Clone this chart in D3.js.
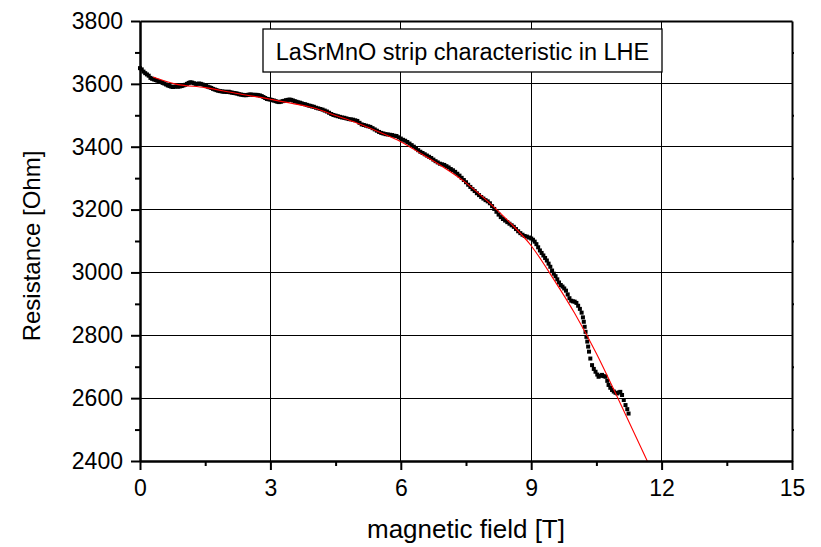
<!DOCTYPE html>
<html>
<head>
	<meta charset="utf-8">
	<title>LaSrMnO strip characteristic</title>
	<script src="https://d3js.org/d3.v7.min.js"></script>
	<style>
		body { margin: 0; background: #fff; }
		text { font-family: 'Liberation Sans', Arial, sans-serif; fill: #000; }
	</style>
</head>
<body>
	<div class="chart"></div>

	<script type="text/javascript">
		// measured points: magnetic field [T] / resistance [Ohm]
		var fieldT = [
			0.00, 0.04, 0.08, 0.12, 0.16, 0.20, 0.24, 0.28, 0.32, 0.36, 0.40, 0.44, 0.48, 0.52, 0.56, 0.60,
			0.64, 0.68, 0.72, 0.76, 0.80, 0.84, 0.88, 0.92, 0.96, 1.00, 1.04, 1.08, 1.12, 1.16, 1.20, 1.24,
			1.28, 1.32, 1.36, 1.40, 1.44, 1.48, 1.52, 1.56, 1.60, 1.64, 1.68, 1.72, 1.76, 1.80, 1.84, 1.88,
			1.92, 1.96, 2.00, 2.04, 2.08, 2.12, 2.16, 2.20, 2.24, 2.28, 2.32, 2.36, 2.40, 2.44, 2.48, 2.52,
			2.56, 2.60, 2.64, 2.68, 2.72, 2.76, 2.80, 2.84, 2.88, 2.92, 2.96, 3.00, 3.04, 3.08, 3.12, 3.16,
			3.20, 3.24, 3.28, 3.32, 3.36, 3.40, 3.44, 3.48, 3.52, 3.56, 3.60, 3.64, 3.68, 3.72, 3.76, 3.80,
			3.84, 3.88, 3.92, 3.96, 4.00, 4.05, 4.10, 4.15, 4.20, 4.25, 4.30, 4.35, 4.40, 4.45, 4.50, 4.55,
			4.60, 4.65, 4.70, 4.75, 4.80, 4.85, 4.90, 4.95, 5.00, 5.05, 5.10, 5.15, 5.20, 5.25, 5.30, 5.35,
			5.40, 5.45, 5.50, 5.55, 5.60, 5.65, 5.70, 5.75, 5.80, 5.85, 5.90, 5.95, 6.00, 6.05, 6.10, 6.15,
			6.20, 6.25, 6.30, 6.35, 6.40, 6.45, 6.50, 6.55, 6.60, 6.65, 6.70, 6.75, 6.80, 6.85, 6.90, 6.95,
			7.00, 7.05, 7.10, 7.15, 7.20, 7.25, 7.30, 7.35, 7.40, 7.45, 7.50, 7.55, 7.60, 7.65, 7.70, 7.75,
			7.80, 7.85, 7.90, 7.95, 8.00, 8.05, 8.10, 8.15, 8.20, 8.25, 8.30, 8.35, 8.40, 8.45, 8.50, 8.55,
			8.60, 8.65, 8.70, 8.75, 8.80, 8.85, 8.90, 8.95, 9.00, 9.04, 9.08, 9.12, 9.16, 9.20, 9.24, 9.28,
			9.32, 9.36, 9.40, 9.44, 9.48, 9.52, 9.56, 9.60, 9.64, 9.68, 9.72, 9.76, 9.80, 9.84, 9.88, 9.92,
			9.96, 10.00, 10.04, 10.08, 10.12, 10.16, 10.19, 10.21, 10.23, 10.25, 10.27, 10.29, 10.31, 10.33, 10.36, 10.40,
			10.44, 10.48, 10.52, 10.55, 10.59, 10.63, 10.67, 10.71, 10.75, 10.78, 10.82, 10.86, 10.90, 10.94, 10.98, 11.02,
			11.05, 11.09, 11.13, 11.17, 11.21, 11.24
		]
		var resistance = [
			3650, 3646, 3639, 3634, 3630, 3626, 3619, 3616, 3614, 3612, 3610, 3608, 3606, 3603, 3601, 3598,
			3595, 3593, 3591, 3590, 3591, 3592, 3591, 3592, 3593, 3595, 3597, 3600, 3603, 3605, 3604, 3602,
			3600, 3600, 3601, 3600, 3598, 3596, 3593, 3591, 3589, 3587, 3584, 3582, 3580, 3578, 3577, 3576,
			3575, 3575, 3574, 3575, 3573, 3572, 3571, 3570, 3569, 3567, 3566, 3565, 3564, 3564, 3565, 3566,
			3566, 3565, 3565, 3565, 3564, 3563, 3561, 3558, 3555, 3552, 3551, 3550, 3548, 3547, 3545, 3543,
			3542, 3543, 3545, 3546, 3548, 3549, 3550, 3549, 3547, 3545, 3543, 3541, 3540, 3538, 3536, 3535,
			3533, 3531, 3530, 3528, 3527, 3524, 3522, 3520, 3518, 3515, 3512, 3508, 3504, 3501, 3499, 3497,
			3495, 3493, 3492, 3490, 3488, 3487, 3486, 3484, 3482, 3476, 3471, 3469, 3467, 3465, 3463, 3459,
			3455, 3451, 3447, 3444, 3442, 3440, 3439, 3438, 3437, 3435, 3434, 3430, 3426, 3422, 3419, 3415,
			3410, 3405, 3400, 3395, 3389, 3384, 3380, 3376, 3372, 3368, 3364, 3359, 3354, 3350, 3346, 3344,
			3342, 3338, 3334, 3329, 3325, 3320, 3314, 3308, 3301, 3294, 3287, 3279, 3272, 3265, 3259, 3252,
			3246, 3240, 3235, 3230, 3226, 3220, 3211, 3202, 3193, 3184, 3176, 3170, 3165, 3160, 3155, 3150,
			3145, 3138, 3131, 3125, 3120, 3116, 3114, 3111, 3108, 3104, 3098, 3090, 3080, 3070, 3062, 3054,
			3046, 3038, 3028, 3018, 3006, 2996, 2988, 2978, 2968, 2960, 2955, 2949, 2942, 2930, 2918, 2910,
			2908, 2907, 2903, 2894, 2884, 2872, 2857, 2843, 2827, 2811, 2795, 2780, 2764, 2748, 2726, 2705,
			2693, 2684, 2675, 2668, 2671, 2674, 2670, 2668, 2655, 2642, 2633, 2626, 2621, 2617, 2615, 2618,
			2620, 2610, 2594, 2578, 2565, 2551
		]

		// fitted curve (red)
		var fitField = [0.3, 0.8, 1.5, 2.2, 3.0, 3.5, 4.0, 4.5, 5.0, 5.5, 6.0, 6.5, 7.0, 7.5, 8.0, 8.5, 9.0, 9.5, 10.0, 10.5, 11.0, 11.67]
		var fitR = [3622, 3600, 3588, 3570, 3551, 3538, 3523, 3499, 3475, 3447, 3416, 3375, 3333, 3285, 3226, 3160, 3085, 2982, 2870, 2742, 2598, 2400]

		var xTicks = [0, 3, 6, 9, 12, 15]
		var yTicks = [2400, 2600, 2800, 3000, 3200, 3400, 3600, 3800]
		var xTitle = 'magnetic field [T]'
		var yTitle = 'Resistance [Ohm]'
		var legendText = 'LaSrMnO strip characteristic in LHE'

		var width = 821
		var height = 547
		var margin = { top: 21, right: 29, bottom: 86, left: 140 }
		var innerW = width - margin.left - margin.right
		var innerH = height - margin.top - margin.bottom

		var svg = d3
			.select('.chart')
			.append('svg')
			.attr('width', width)
			.attr('height', height)

		var chart = svg.append('g').attr('transform', `translate(${margin.left}, ${margin.top})`)

		var x = d3.scaleLinear().domain([0, 15]).range([0, innerW])
		var y = d3.scaleLinear().domain([2400, 3800]).range([innerH, 0])

		// 网格
		var grid = chart.append('g').attr('stroke', '#000').attr('stroke-width', 1).attr('shape-rendering', 'crispEdges')
		grid.selectAll('.gx')
			.data(xTicks.slice(1, -1))
			.enter()
			.append('line')
			.attr('x1', (d) => x(d)).attr('x2', (d) => x(d))
			.attr('y1', 0).attr('y2', innerH)
		grid.selectAll('.gy')
			.data(yTicks.slice(1, -1))
			.enter()
			.append('line')
			.attr('x1', 0).attr('x2', innerW)
			.attr('y1', (d) => y(d)).attr('y2', (d) => y(d))

		// 图例框
		var legend = chart.append('g')
		legend.append('rect')
			.attr('x', 123).attr('y', 8)
			.attr('width', 399).attr('height', 43)
			.attr('fill', '#fff').attr('stroke', '#000').attr('stroke-width', 1.3)
		legend.append('text')
			.attr('x', 123 + 399 / 2).attr('y', 39)
			.attr('text-anchor', 'middle')
			.style('font-size', '23.5px')
			.text(legendText)

		// 数据点
		var clip = svg.append('clipPath').attr('id', 'plotclip')
		clip.append('rect').attr('width', innerW).attr('height', innerH)

		var pts = d3.zip(fieldT, resistance)
		chart.append('g')
			.selectAll('rect')
			.data(pts)
			.enter()
			.append('rect')
			.attr('x', (d) => x(d[0]) - 2)
			.attr('y', (d) => y(d[1]) - 2)
			.attr('width', 4)
			.attr('height', 4)
			.attr('fill', '#000')

		var line = d3.line()
			.x((d) => x(d[0]))
			.y((d) => y(d[1]))
			.curve(d3.curveMonotoneX)

		chart.append('path')
			.datum(d3.zip(fitField, fitR))
			.attr('clip-path', 'url(#plotclip)')
			.attr('fill', 'none')
			.attr('stroke', '#ff0000')
			.attr('stroke-width', 1.1)
			.attr('d', line)

		// 坐标轴
		function styleAxis(g) {
			g.select('.domain').attr('stroke-width', 2)
			g.selectAll('.tick line').attr('stroke-width', 2)
			g.selectAll('.tick text').style('font-size', '23px').attr('fill', '#000')
		}

		var xMinor = d3.range(1.5, 15, 3)
		var yMinor = d3.range(2500, 3800, 200)

		chart.append('g')
			.attr('transform', `translate(0, ${innerH})`)
			.call(d3.axisBottom(x).tickValues(xMinor).tickSize(5).tickFormat('').tickSizeOuter(0))
			.call(styleAxis)
		chart.append('g')
			.attr('transform', `translate(0, ${innerH})`)
			.call(d3.axisBottom(x).tickValues(xTicks).tickSize(9).tickPadding(10).tickSizeOuter(0))
			.call(styleAxis)

		chart.append('g')
			.call(d3.axisLeft(y).tickValues(yMinor).tickSize(5).tickFormat('').tickSizeOuter(0))
			.call(styleAxis)
		chart.append('g')
			.call(d3.axisLeft(y).tickValues(yTicks).tickSize(9).tickPadding(8).tickFormat(d3.format('d')).tickSizeOuter(0))
			.call(styleAxis)

		chart.append('g')
			.attr('transform', `translate(${innerW}, 0)`)
			.call(d3.axisRight(y).tickValues(yMinor).tickSize(2).tickFormat('').tickSizeOuter(0))
			.call(styleAxis)
		chart.append('g')
			.call(d3.axisTop(x).tickValues([]).tickSizeOuter(0))
			.call(styleAxis)

		// 轴标题
		chart.append('text')
			.attr('x', innerW / 2).attr('y', innerH + 77)
			.attr('text-anchor', 'middle')
			.style('font-size', '26px')
			.text(xTitle)

		chart.append('text')
			.attr('transform', `translate(${40 - margin.left}, ${innerH / 2 + 5}) rotate(-90)`)
			.attr('text-anchor', 'middle')
			.style('font-size', '24px')
			.text(yTitle)
	</script>
</body>
</html>
